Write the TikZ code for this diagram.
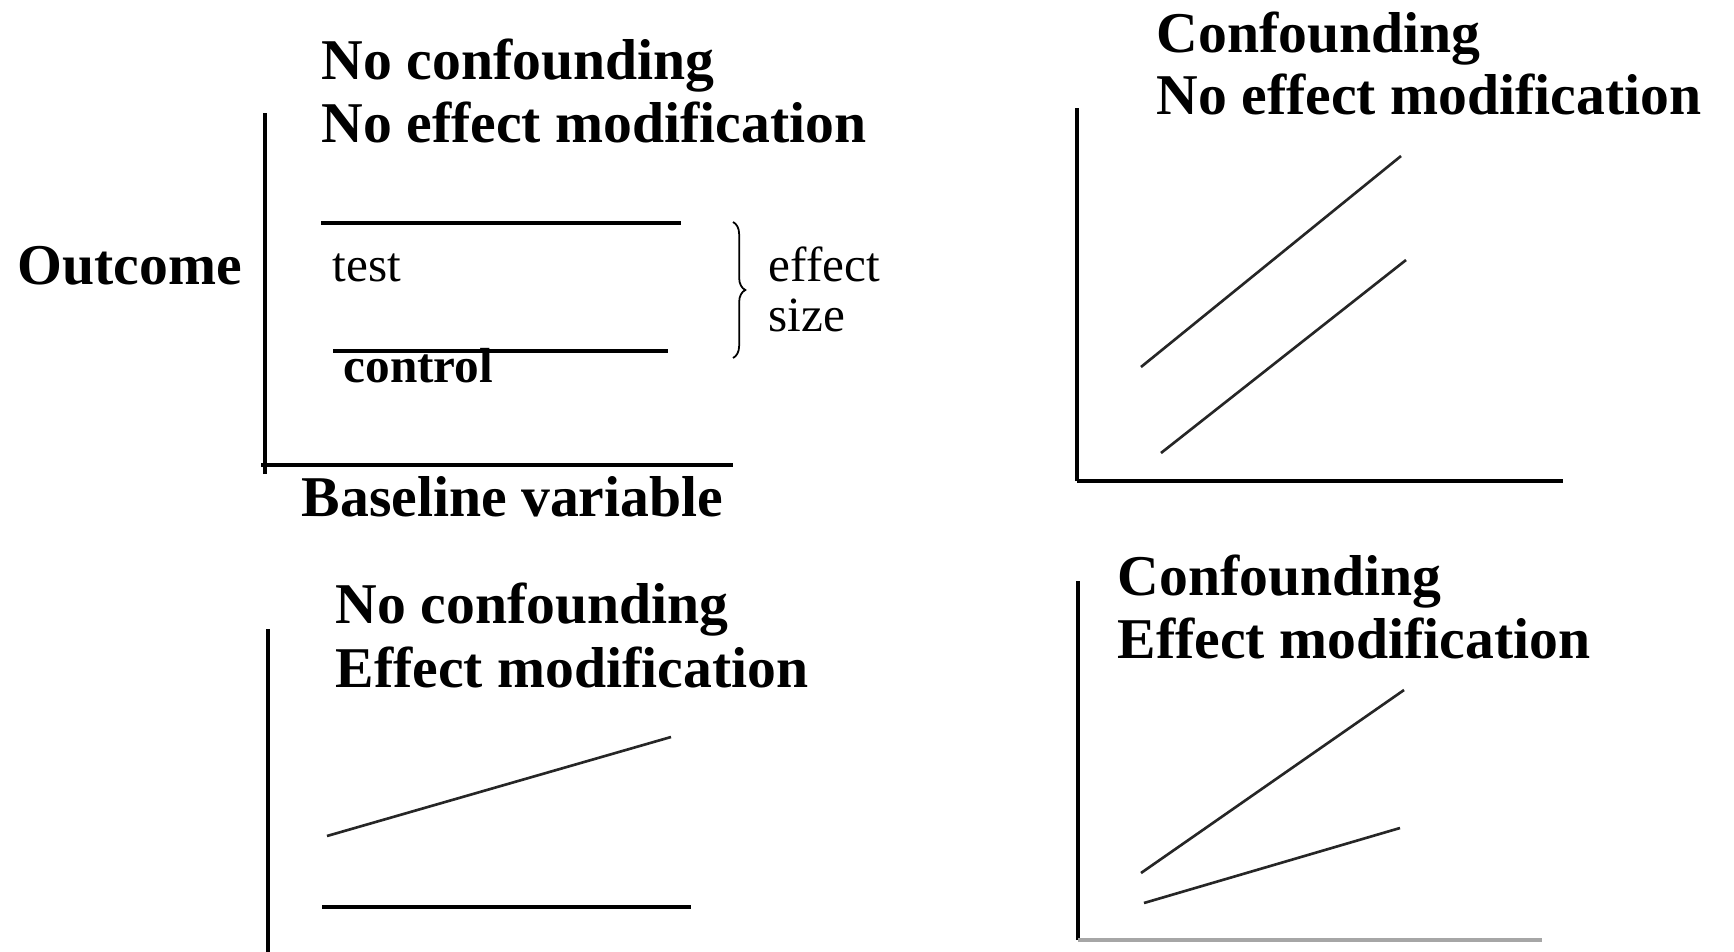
\documentclass[tikz,border=0pt]{standalone}
\usepackage{fontspec}
\setmainfont{Liberation Serif}
\usetikzlibrary{decorations.pathreplacing}

\begin{document}
\begin{tikzpicture}[x=0.01cm,y=-0.01cm,
  axis/.style={line width=1pt},
  trend/.style={line width=0.75pt,black!85},
  title/.style={anchor=base west,inner sep=0pt,font=\fontsize{16.4}{18}\selectfont\bfseries},
  lbl/.style={anchor=base west,inner sep=0pt,font=\fontsize{14}{16}\selectfont}]
\useasboundingbox (0,0) rectangle (1734,952);

%panel 1: no confounding, no effect modification
\coordinate (a1y) at (265,113);
\coordinate (a1o) at (265,474);
\coordinate (a1l) at (261,465);
\coordinate (a1x) at (733,465);
\draw[axis] (a1o) -- (a1y);
\draw[axis] (a1l) -- (a1x);
\node[title] (t1a) at (321,80) {No confounding};
\node[title] (t1b) at (321,143) {No effect modification};
\node[title] (outc) at (17,285) {Outcome};
\node[title] (base) at (301,516) {Baseline variable};
\coordinate (test0) at (321,223);
\coordinate (test1) at (681,223);
\coordinate (ctrl0) at (333,351);
\coordinate (ctrl1) at (668,351);
\draw[line width=0.9pt] (test0) -- (test1);
\draw[line width=0.9pt] (ctrl0) -- (ctrl1);
\node[lbl] (test) at (332,282) {test};
\node[lbl,font=\fontsize{14}{16}\selectfont\bfseries] (ctrl) at (343,383) {control};
%brace for the gap between the two lines
\coordinate (br0) at (733,222);
\coordinate (br1) at (733,358);
\draw[line width=0.5pt,decorate,decoration={brace,amplitude=3.5pt}] (br0) -- (br1);
\node[lbl] (eff) at (768,282) {effect};
\node[lbl] (size) at (768,332) {size};

%panel 2: confounding, no effect modification
\coordinate (a2y) at (1077,108);
\coordinate (a2o) at (1077,481);
\coordinate (a2x) at (1563,481);
\draw[axis] (a2o) -- (a2y);
\draw[axis] (a2o) -- (a2x);
\node[title] (t2a) at (1156,53) {Confounding};
\node[title] (t2b) at (1156,115) {No effect modification};
\coordinate (p2a0) at (1141,367);
\coordinate (p2a1) at (1401,156);
\coordinate (p2b0) at (1161,453);
\coordinate (p2b1) at (1406,260);
\draw[trend] (p2a0) -- (p2a1);
\draw[trend] (p2b0) -- (p2b1);

%panel 3: no confounding, effect modification
\coordinate (a3y) at (268,629);
\coordinate (a3o) at (268,952);
\draw[axis] (a3o) -- (a3y);
\node[title] (t3a) at (335,623) {No confounding};
\node[title] (t3b) at (335,687) {Effect modification};
\coordinate (p3a0) at (327,836);
\coordinate (p3a1) at (671,737);
\coordinate (p3b0) at (322,907);
\coordinate (p3b1) at (691,907);
\draw[trend] (p3a0) -- (p3a1);
\draw[line width=0.95pt] (p3b0) -- (p3b1);

%panel 4: confounding, effect modification
\coordinate (a4y) at (1078,581);
\coordinate (a4o) at (1078,940);
\coordinate (a4x) at (1542,940);
\draw[axis] (a4o) -- (a4y);
\draw[line width=1.1pt,gray!70] (a4o) -- (a4x);
\node[title] (t4a) at (1117,595) {Confounding};
\node[title] (t4b) at (1117,658) {Effect modification};
\coordinate (p4a0) at (1141,873);
\coordinate (p4a1) at (1404,690);
\coordinate (p4b0) at (1144,903);
\coordinate (p4b1) at (1400,828);
\draw[trend] (p4a0) -- (p4a1);
\draw[trend] (p4b0) -- (p4b1);

\end{tikzpicture}
\end{document}
